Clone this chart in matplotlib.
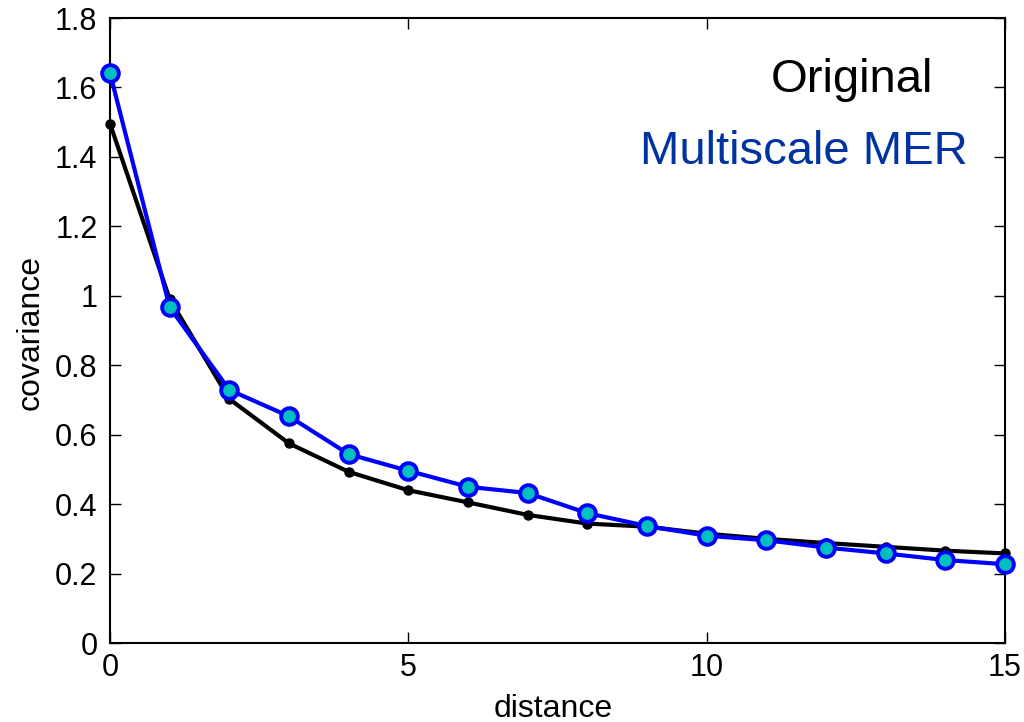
import matplotlib
matplotlib.use("Agg")
import matplotlib.pyplot as plt

distance = list(range(16))
original = [1.496, 0.991, 0.703, 0.575, 0.493, 0.440, 0.405, 0.369, 0.344,
            0.335, 0.315, 0.300, 0.288, 0.277, 0.266, 0.258]
multiscale = [1.642, 0.967, 0.729, 0.653, 0.544, 0.496, 0.450, 0.432, 0.374,
              0.337, 0.309, 0.296, 0.275, 0.258, 0.239, 0.227]
yticks = [0, 0.2, 0.4, 0.6, 0.8, 1.0, 1.2, 1.4, 1.6, 1.8]
ytick_labels = ["0", "0.2", "0.4", "0.6", "0.8", "1", "1.2", "1.4", "1.6", "1.8"]
xticks = [0, 5, 10, 15]

plt.rcParams['font.family'] = ['Liberation Sans', 'DejaVu Sans']

fig = plt.figure(figsize=(10.24, 7.22), dpi=100)
ax = fig.add_axes([0.1074, 0.1094, 0.8740, 0.8656])

ax.plot(distance, original, color='black', lw=3, marker='o', ms=6.5,
        mfc='black', mec='black', zorder=2, clip_on=False)
ax.plot(distance, multiscale, color='#0000FF', lw=3, marker='o', ms=12,
        mfc='#00BFBF', mec='#0000FF', mew=2.8, zorder=3, clip_on=False)

ax.set_xlim(0, 15)
ax.set_ylim(0, 1.8)
ax.set_xticks(xticks)
ax.set_xticklabels([str(t) for t in xticks])
ax.set_yticks(yticks)
ax.set_yticklabels(ytick_labels)
ax.tick_params(direction='in', length=8, width=1, labelsize=22,
               top=True, right=True, pad=7)
ax.tick_params(axis='y', pad=9)
for s in ax.spines.values():
    s.set_linewidth(1.5)

fig.text(553/1024, 1 - 717/722, 'distance', fontsize=23, color='black',
         ha='center', va='baseline')
fig.text(31/1024, 1 - 333/722, 'covariance', fontsize=23, color='black',
         ha='center', va='center', rotation=90)

fig.text(933/1024, 1 - 92/722, 'Original', fontsize=34, color='black',
         ha='right', va='baseline')
fig.text(968/1024, 1 - 164/722, 'Multiscale MER', fontsize=34, color='#0033A0',
         ha='right', va='baseline')

fig.savefig('out.png', dpi=100)
